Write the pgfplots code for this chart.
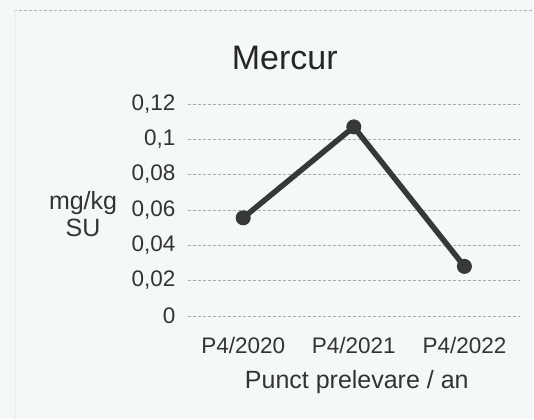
\documentclass[border=0pt]{standalone}
\usepackage{pgfplots}
\pgfplotsset{compat=1.18}
\usepackage{fontspec}
\setmainfont{Liberation Sans}
\definecolor{bgc}{HTML}{F5F8F9}
\definecolor{linec}{HTML}{363839}
\definecolor{gridc}{HTML}{A8ABAD}
\begin{document}
\begin{tikzpicture}
\fill[bgc] (0,0) rectangle (534pt,419pt);
\draw[gray!60, densely dashed, line width=0.6pt] (14pt,409pt) -- (534pt,409pt);
\draw[gray!15, line width=0.8pt] (15pt,0pt) -- (15pt,409pt);
\begin{axis}[
  at={(188pt,103pt)}, anchor=south west,
  scale only axis, width=332pt, height=212pt,
  xmin=-0.5, xmax=2.5, ymin=0, ymax=0.12,
  axis line style={draw=none},
  tick style={draw=none},
  xtick=data,
  xticklabels={P4/2020,P4/2021,P4/2022},
  ytick={0,0.02,0.04,0.06,0.08,0.1,0.12},
  yticklabels={0,{0,02},{0,04},{0,06},{0,08},{0,1},{0,12}},
  ymajorgrids,
  grid style={gridc, densely dashed, line width=0.6pt},
  every tick label/.append style={font=\fontsize{22.5}{25}\selectfont, text=black!80},
  yticklabel style={xshift=-9pt},
  xticklabel style={yshift=-18pt},
  title={Mercur},
  title style={font=\fontsize{34}{38}\selectfont, text=black!85, at={(axis description cs:0.292,1.19)}, anchor=center},
  ylabel={mg/kg\\SU},
  ylabel style={rotate=-90, align=center, font=\fontsize{25}{27}\selectfont, text=black!80, at={(axis description cs:-0.316,0.48)}, anchor=center},
  xlabel={Punct prelevare / an},
  xlabel style={font=\fontsize{25}{28}\selectfont, text=black!80, at={(axis description cs:0.509,-0.311)}, anchor=center},
]
\addplot[linec, line width=5.5pt, mark=*, mark size=7pt, mark options={fill=linec, draw=linec, line width=1pt}]
  coordinates {(0,0.0555) (1,0.107) (2,0.028)};
\end{axis}
\end{tikzpicture}
\end{document}
